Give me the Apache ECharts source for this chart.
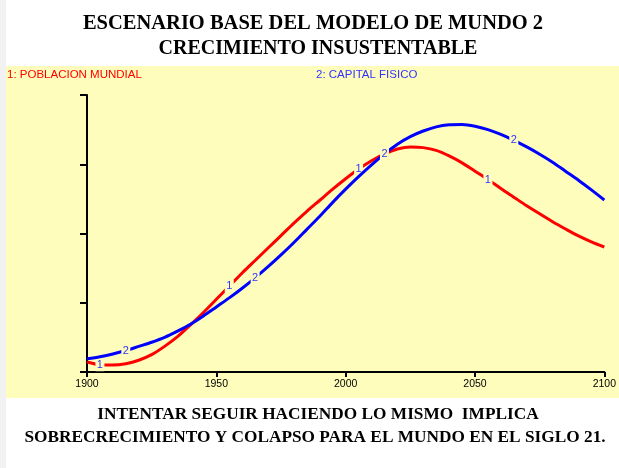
<!DOCTYPE html>
<html>
<head>
<meta charset="utf-8">
<script src="https://cdn.jsdelivr.net/npm/echarts@6/dist/echarts.min.js"></script>
<style>
html,body{margin:0;padding:0;background:#fff;}
#c{width:619px;height:468px;}
</style>
</head>
<body>
<div id="c"></div>
<script>
const years = [1900,1905,1910,1915,1920,1925,1930,1935,1940,1945,1950,1955,1960,1965,1970,1975,1980,1985,1990,1995,2000,2005,2010,2015,2020,2025,2030,2035,2040,2045,2050,2055,2060,2065,2070,2075,2080,2085,2090,2095,2100];
const poblacion = [0.144,0.105,0.10,0.12,0.17,0.25,0.37,0.51,0.68,0.86,1.05,1.24,1.43,1.61,1.79,1.97,2.15,2.32,2.48,2.64,2.79,2.93,3.05,3.15,3.22,3.25,3.24,3.20,3.12,3.02,2.90,2.78,2.65,2.525,2.40,2.285,2.17,2.065,1.965,1.88,1.805];
const capital = [0.19,0.22,0.26,0.31,0.37,0.43,0.50,0.59,0.69,0.81,0.94,1.07,1.21,1.36,1.52,1.69,1.87,2.06,2.25,2.45,2.64,2.82,2.99,3.15,3.29,3.40,3.48,3.54,3.57,3.575,3.55,3.50,3.43,3.345,3.25,3.145,3.03,2.90,2.77,2.63,2.484];
const labelYears1 = [1905,1955,2005,2055];
const labelYears2 = [1915,1965,2015,2065];
const xTicks = [1900,1950,2000,2050,2100];
const yTicks = [0,1,2,3,4];

const YELLOW = '#FFFDBB';

function build(vals, labelYears, tag){
  return years.map((y,i)=>{
    if(labelYears.indexOf(y)>=0){
      return {value:[y,vals[i]], symbol:'rect', symbolSize:[9,13],
        itemStyle:{color:YELLOW,borderWidth:0},
        label:{show:true,formatter:tag,position:'inside',color:'#3333ff',fontSize:11,fontFamily:'Liberation Sans, Arial, sans-serif'}};
    }
    return {value:[y,vals[i]], symbol:'none'};
  });
}

const serif = '"Liberation Serif", "Times New Roman", serif';
const sans = '"Liberation Sans", Arial, sans-serif';
const chart = echarts.init(document.getElementById('c'));
chart.setOption({
  animation:false,
  backgroundColor:'#ffffff',
  graphic:[
    {type:'rect',shape:{x:0,y:0,width:6,height:468},style:{fill:'#f2f2f2'},z:-10,silent:true},
    {type:'rect',shape:{x:6,y:66,width:613,height:332},style:{fill:YELLOW},z:-10,silent:true},
    {type:'text',x:313,y:13,style:{text:'ESCENARIO BASE DEL MODELO DE MUNDO 2',textAlign:'center',font:'bold 20.5px '+serif,fill:'#000'}},
    {type:'text',x:318,y:39,style:{text:'CRECIMIENTO INSUSTENTABLE',textAlign:'center',font:'bold 20px '+serif,fill:'#000'}},
    {type:'text',x:7,y:69,style:{text:'1: POBLACION MUNDIAL',font:'11.5px '+sans,fill:'#ff0000'}},
    {type:'text',x:316,y:69,style:{text:'2: CAPITAL FISICO',font:'11.5px '+sans,fill:'#3333ff'}},
    {type:'text',x:318,y:406,style:{text:'INTENTAR SEGUIR HACIENDO LO MISMO  IMPLICA',textAlign:'center',font:'bold 17.3px '+serif,fill:'#000'}},
    {type:'text',x:315,y:429,style:{text:'SOBRECRECIMIENTO Y COLAPSO PARA EL MUNDO EN EL SIGLO 21.',textAlign:'center',font:'bold 17.3px '+serif,fill:'#000'}}
  ],
  grid:{left:87,right:2,top:95,bottom:96,containLabel:false},
  xAxis:{type:'value',min:xTicks[0],max:xTicks[xTicks.length-1],interval:50,
    axisLine:{show:true,lineStyle:{color:'#000',width:2}},
    axisTick:{show:true,length:5,lineStyle:{color:'#000',width:2}},
    axisLabel:{show:true,color:'#000',fontSize:10.5,margin:7,fontFamily:sans,showMaxLabel:true,
      alignMaxLabel:'center',alignMinLabel:'center',formatter:v=>String(v)},
    splitLine:{show:false}},
  yAxis:{type:'value',min:yTicks[0],max:yTicks[yTicks.length-1],interval:1,
    axisLine:{show:true,lineStyle:{color:'#000',width:2}},
    axisTick:{show:true,length:7,lineStyle:{color:'#000',width:2}},
    axisLabel:{show:false},
    splitLine:{show:false}},
  series:[
    {type:'line',name:'POBLACION MUNDIAL',data:build(poblacion,labelYears1,'1'),smooth:0.3,showSymbol:true,showAllSymbol:true,
      lineStyle:{color:'#ff0000',width:3},itemStyle:{color:'#ff0000'},emphasis:{disabled:true},z:3},
    {type:'line',name:'CAPITAL FISICO',data:build(capital,labelYears2,'2'),smooth:0.3,showSymbol:true,showAllSymbol:true,
      lineStyle:{color:'#0000ff',width:3},itemStyle:{color:'#0000ff'},emphasis:{disabled:true},z:4}
  ]
});
</script>
</body>
</html>
